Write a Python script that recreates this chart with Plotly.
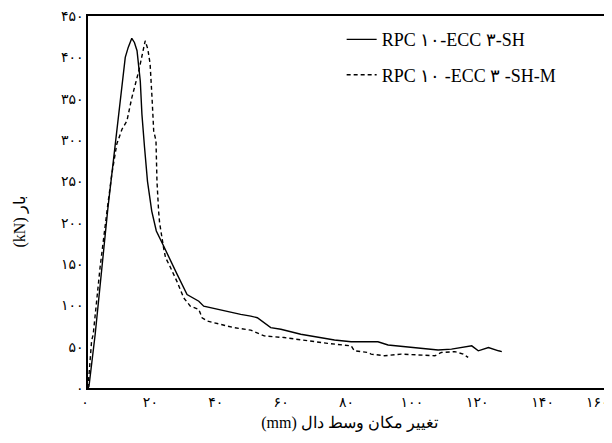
import plotly.graph_objects as go

# Series 1: RPC 10-ECC 3-SH (solid)
sh_x = [0, 0.3, 2.2, 4.2, 6.1, 7.3, 8.8, 10.1, 11.4, 12.3, 13.4, 14.2, 15.0, 16.0, 16.5, 17.3,
        18.2, 19.5, 20.9, 23.1, 25.2, 27.2, 30.3, 33.9, 35.4, 41.6, 46.7, 49.8, 51.8, 55.9,
        59.0, 65.1, 70.3, 75.4, 80.5, 85.6, 88.7, 91.8, 96.9, 101.0, 107.1, 111.2, 114.3,
        117.4, 119.4, 122.5, 125.6, 126.6]
sh_y = [0, 2, 65, 146, 218, 259, 311, 356, 400, 412, 423, 418, 408, 371, 331, 291,
        250, 214, 190, 172, 154, 138, 113, 105, 99, 93, 89, 87, 85, 73,
        71, 65, 61, 58, 56, 56, 56, 52, 50, 48, 46, 47, 49,
        51, 45, 49, 45, 44]

# Series 2: RPC 10-ECC 3-SH-M (dashed)
shm_x = [0, 1.1, 1.6, 3.7, 6.0, 7.3, 8.8, 10.4, 11.9, 13.4, 15.5, 17.5, 18.3, 19.0, 19.6,
         20.1, 20.8, 21.1, 21.6, 21.9, 23.1, 23.7, 25.2, 27.2, 29.3, 31.3, 33.9, 34.9, 36.5,
         40.6, 44.6, 49.8, 53.9, 60.0, 67.2, 73.3, 80.5, 81.5, 85.6, 86.6, 90.7, 95.8,
         101.0, 106.1, 108.1, 112.2, 114.8, 116.3]
shm_y = [0, 57, 65, 146, 220, 259, 295, 313, 323, 351, 383, 420, 410, 392, 350,
         311, 299, 250, 214, 200, 170, 158, 146, 129, 109, 99, 95, 85, 81,
         77, 73, 70, 63, 61, 57, 54, 51, 45, 43, 41, 39, 41,
         40, 39, 43, 44, 41, 37]

series_names = ["RPC ۱۰-ECC ۳-SH", "RPC ۱۰ -ECC ۳ -SH-M"]

x_tickvals = [0, 20, 40, 60, 80, 100, 120, 140, 160]
x_ticktext = ["۰", "۲۰", "۴۰", "۶۰", "۸۰", "۱۰۰", "۱۲۰", "۱۴۰", "۱۶۰"]
y_tickvals = [0, 50, 100, 150, 200, 250, 300, 350, 400, 450]
y_ticktext = ["۰", "۵۰", "۱۰۰", "۱۵۰", "۲۰۰", "۲۵۰", "۳۰۰", "۳۵۰", "۴۰۰", "۴۵۰"]

x_title = "(mm) تغییر مکان وسط دال"
y_title = "(kN) بار"

FONT = "Liberation Serif"
TICKFONT = dict(size=14, family="DejaVu Sans", color="black")

fig = go.Figure()
fig.add_trace(go.Scatter(x=sh_x, y=sh_y, mode="lines", name=series_names[0],
                         legendgroup="a",
                         line=dict(color="black", width=1.4)))
fig.add_trace(go.Scatter(x=shm_x, y=shm_y, mode="lines", name=series_names[1],
                         legendgroup="b",
                         line=dict(color="black", width=1.4, dash="4px,3px")))

# last x tick label sits flush with the right edge, as in the reference
annotations = [
    dict(text=y_title, textangle=-90, xref="paper", yref="paper",
         x=-0.13, y=0.445, xanchor="center", yanchor="middle",
         showarrow=False, font=dict(size=16, family=FONT)),
    dict(text=x_ticktext[-1], xref="x", yref="paper", x=x_tickvals[-1], y=0,
         xanchor="right", yanchor="top", yshift=-4, showarrow=False,
         font=TICKFONT),
]

fig.update_layout(
    width=604, height=435,
    margin=dict(l=80, r=1, t=8, b=55),
    paper_bgcolor="white", plot_bgcolor="white",
    font=dict(family=FONT, color="black", size=15),
    showlegend=True,
    legend=dict(x=0.485, y=0.986, xanchor="left", yanchor="top",
                bgcolor="rgba(0,0,0,0)", borderwidth=0,
                font=dict(size=18, family=FONT), tracegroupgap=9,
                itemwidth=30),
    xaxis=dict(range=[0, 160], tickvals=x_tickvals[:-1], ticktext=x_ticktext[:-1],
               showgrid=False, zeroline=False, showline=True, mirror=True,
               linecolor="black", linewidth=1.5, ticks="", automargin=False,
               ticklabeloverflow="allow", ticklabelshift=-3,
               tickfont=TICKFONT,
               title=dict(text=x_title, font=dict(size=16, family=FONT), standoff=8)),
    yaxis=dict(range=[0, 450], tickvals=y_tickvals, ticktext=y_ticktext,
               showgrid=False, zeroline=False, showline=True, mirror=True,
               linecolor="black", linewidth=1.5, ticks="", automargin=False,
               ticklabeloverflow="allow",
               tickfont=TICKFONT),
    annotations=annotations,
)

fig.write_html("out.html")
